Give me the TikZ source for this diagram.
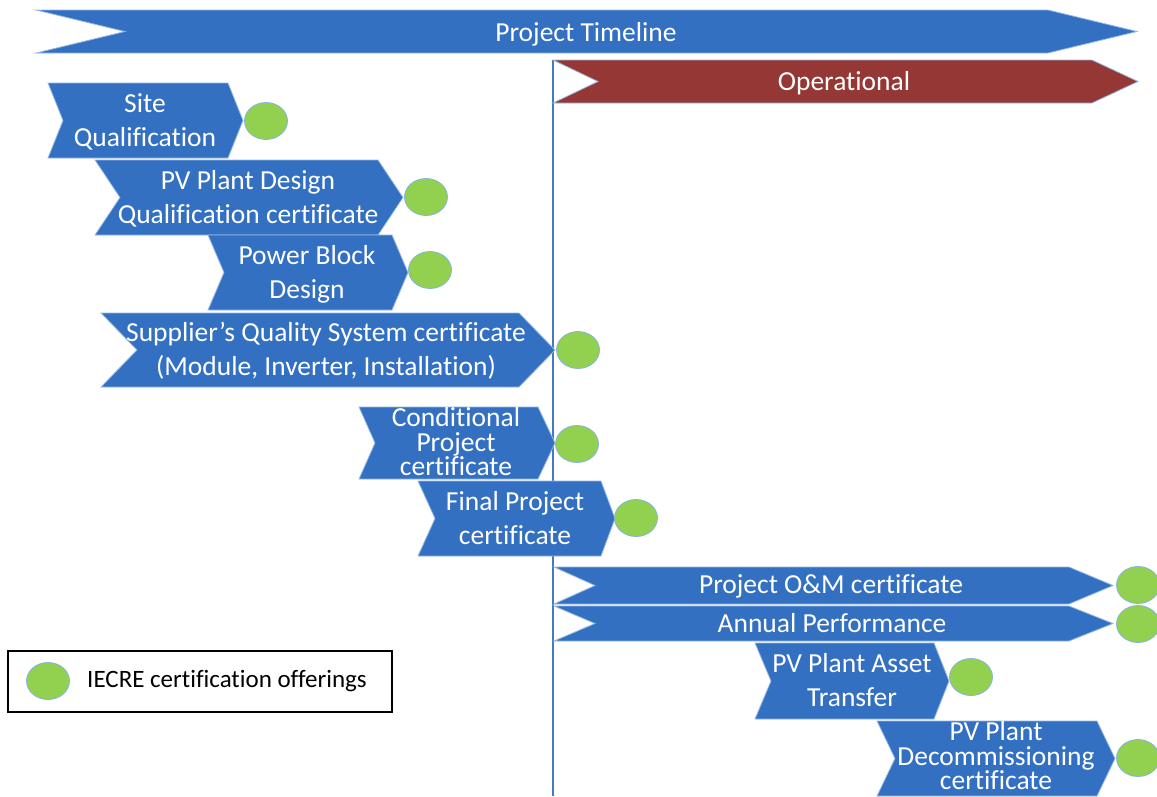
\documentclass[tikz,border=0pt]{standalone}
\usepackage{fontspec}
\setmainfont{Carlito}[Ligatures=NoCommon]
\usetikzlibrary{shapes.geometric}
\definecolor{chevblue}{RGB}{51,112,194}
\definecolor{chevred}{RGB}{149,55,53}
\definecolor{offergreen}{RGB}{146,208,80}
\definecolor{edgeblue}{RGB}{150,185,228}
\definecolor{lineblue}{RGB}{70,120,200}
\definecolor{ringblue}{RGB}{135,180,220}
\newcommand\drawchevron[8]{% name, fill, xl, xn, xr, xt, yt, yb
  \path[chevshape, fill=#2] (#3,#7) -- (#5,#7) -- (#6,{(#7+#8)/2}) -- (#5,#8) -- (#3,#8) -- (#4,{(#7+#8)/2}) -- cycle;
  \coordinate (#1) at (#6,{(#7+#8)/2});
}
\tikzset{
  chevshape/.style={draw=edgeblue, line width=0.8pt},
  lbl/.style={text=white, align=center, inner sep=0pt, font=\fontsize{27.5}{34}\selectfont},
  tightlbl/.style={text=white, align=center, inner sep=0pt, font=\fontsize{27.5}{24.5}\selectfont},
  offer/.style={ellipse, minimum width=43pt, minimum height=37pt, inner sep=0pt, fill=offergreen, draw=ringblue, line width=0.8pt},
  vline/.style={draw=lineblue, line width=2pt},
  legendbox/.style={draw=black, line width=1.5pt, minimum width=384pt, minimum height=61pt, inner sep=0pt},
  legendtext/.style={text=black, inner sep=0pt, font=\fontsize{25}{30}\selectfont}
}
\begin{document}
\begin{tikzpicture}[x=1pt, y=-1pt]
\useasboundingbox[fill=white] (0,0) rectangle (1157,796);
% operational line (behind the chevrons)
\coordinate (vtop) at (553,60);
\coordinate (vbot) at (553,796);
\draw[vline] (vtop) -- (vbot);
% chevrons
\drawchevron{timeline}{chevblue}{36}{125}{1048}{1137}{10}{53}
\drawchevron{operational}{chevred}{553}{598}{1092}{1138}{60}{103}
\drawchevron{site}{chevblue}{48}{63}{228}{243}{83}{158}
\drawchevron{pvdesign}{chevblue}{95}{120}{378}{403}{160}{235}
\drawchevron{powerblock}{chevblue}{208}{224}{392}{408}{235}{310}
\drawchevron{supplier}{chevblue}{101}{137}{519}{555}{313}{387}
\drawchevron{conditional}{chevblue}{359}{375}{538}{555}{407}{479}
\drawchevron{final}{chevblue}{418}{435}{601}{615}{481}{556}
\drawchevron{om}{chevblue}{554}{595}{1069}{1113}{567}{604}
\drawchevron{annual}{chevblue}{554}{595}{1069}{1113}{606}{641}
\drawchevron{asset}{chevblue}{755}{771}{934}{949}{643}{719}
\drawchevron{decom}{chevblue}{877}{895}{1097}{1115}{721}{796}
% labels
\node[lbl, anchor=base] (t-timeline) at (586,41) {Project Timeline};
\node[lbl, anchor=base] (t-operational) at (844,90) {Operational};
\node[lbl] (t-site) at (145,121.5) {Site\\Qualification};
\node[lbl] (t-pvdesign) at (248,199) {PV Plant Design\\Qualification certificate};
\node[lbl] (t-powerblock) at (307,274.5) {Power Block\\Design};
\node[lbl] (t-supplier) at (326,350.5) {Supplier’s Quality System certificate\\(Module, Inverter, Installation)};
\node[tightlbl] (t-conditional) at (456,442) {Conditional\\Project\\certificate};
\node[lbl] (t-final) at (515,518) {Final Project\\certificate};
\node[lbl, anchor=base] (t-om) at (831,593) {Project O\&M certificate};
\node[lbl, anchor=base] (t-annual) at (832,632) {Annual Performance};
\node[lbl] (t-asset) at (852,680.5) {PV Plant Asset\\Transfer};
\node[tightlbl] (t-decom) at (996,756) {PV Plant\\Decommissioning\\certificate};
% offering markers
\node[offer] (o-site) at (266,121) {};
\node[offer] (o-pvdesign) at (426,197) {};
\node[offer] (o-powerblock) at (430,270) {};
\node[offer] (o-supplier) at (578,350) {};
\node[offer] (o-conditional) at (577,444) {};
\node[offer] (o-final) at (636,518) {};
\node[offer] (o-om) at (1138,585) {};
\node[offer] (o-annual) at (1138,624) {};
\node[offer] (o-asset) at (971,677) {};
\node[offer] (o-decom) at (1138,758) {};
% legend
\node[legendbox] (legend) at (200,681.5) {};
\node[offer] (o-legend) at (48,681) {};
\node[legendtext, anchor=base west] (t-legend) at (87,687) {IECRE certification offerings};
\end{tikzpicture}
\end{document}
